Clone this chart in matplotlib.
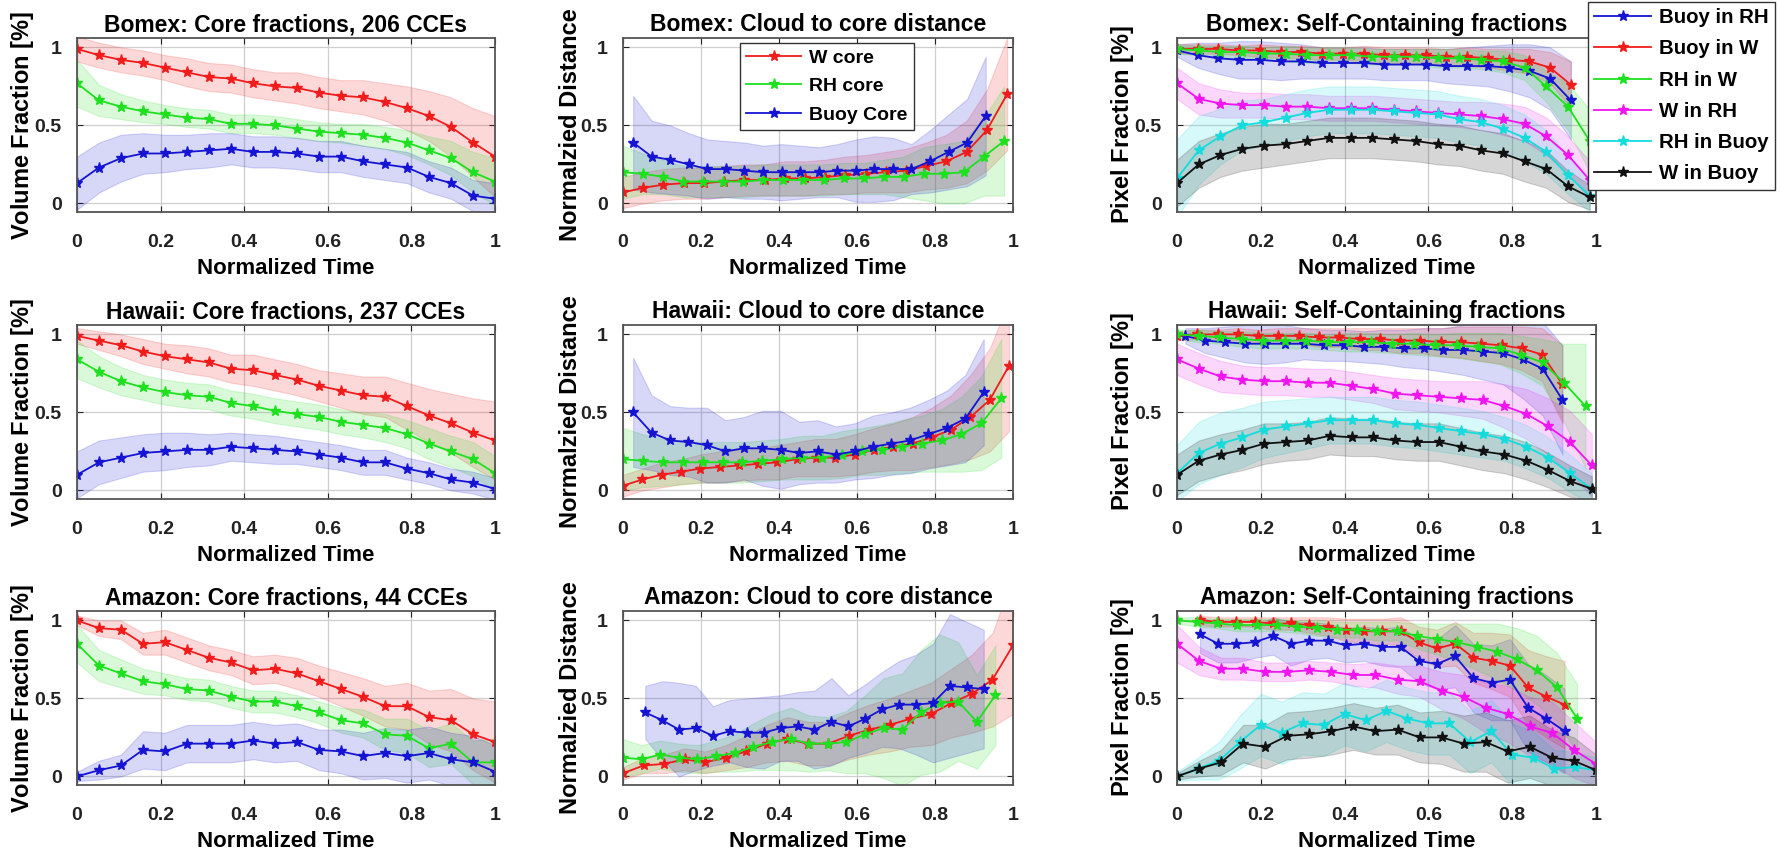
import numpy as np
import matplotlib
matplotlib.use('Agg')
import matplotlib.pyplot as plt

plt.rcParams['font.family'] = ['Liberation Sans', 'DejaVu Sans']
plt.rcParams['font.weight'] = 'bold'
plt.rcParams['mathtext.default'] = 'regular'

W, H = 1781, 857

# ---------------- data: core fractions (x = normalized time) ----------------
t20 = np.linspace(0, 1, 20)

bomex_core_w = [0.99, 0.95, 0.92, 0.90, 0.87, 0.84, 0.81, 0.80, 0.77, 0.75, 0.74, 0.71, 0.69, 0.68, 0.65, 0.61, 0.56, 0.49, 0.39, 0.30]
bomex_core_w_sd = [0.08, 0.08, 0.08, 0.08, 0.08, 0.09, 0.09, 0.09, 0.09, 0.09, 0.1, 0.1, 0.1, 0.11, 0.12, 0.14, 0.16, 0.19, 0.22, 0.26]
bomex_core_rh = [0.77, 0.66, 0.62, 0.59, 0.57, 0.55, 0.54, 0.51, 0.51, 0.50, 0.48, 0.46, 0.45, 0.44, 0.42, 0.39, 0.34, 0.29, 0.20, 0.14]
bomex_core_rh_sd = [0.15, 0.1, 0.08, 0.07, 0.06, 0.06, 0.06, 0.06, 0.06, 0.06, 0.06, 0.06, 0.06, 0.07, 0.07, 0.08, 0.09, 0.11, 0.13, 0.15]
bomex_core_b = [0.13, 0.23, 0.29, 0.32, 0.32, 0.33, 0.34, 0.35, 0.33, 0.33, 0.32, 0.30, 0.30, 0.27, 0.25, 0.23, 0.17, 0.13, 0.05, 0.03]
bomex_core_b_sd = [0.17, 0.16, 0.15, 0.13, 0.12, 0.11, 0.11, 0.1, 0.1, 0.1, 0.1, 0.1, 0.1, 0.1, 0.1, 0.1, 0.1, 0.1, 0.1, 0.1]

hawaii_core_w = [0.99, 0.96, 0.93, 0.89, 0.86, 0.84, 0.82, 0.78, 0.77, 0.74, 0.71, 0.67, 0.64, 0.61, 0.60, 0.54, 0.48, 0.43, 0.37, 0.32]
hawaii_core_w_sd = [0.05, 0.06, 0.07, 0.08, 0.08, 0.09, 0.09, 0.09, 0.1, 0.1, 0.1, 0.1, 0.11, 0.12, 0.13, 0.15, 0.17, 0.19, 0.22, 0.25]
hawaii_core_rh = [0.84, 0.76, 0.70, 0.66, 0.63, 0.61, 0.60, 0.56, 0.54, 0.51, 0.49, 0.47, 0.44, 0.42, 0.40, 0.36, 0.30, 0.25, 0.20, 0.11]
hawaii_core_rh_sd = [0.12, 0.1, 0.09, 0.08, 0.08, 0.08, 0.08, 0.08, 0.08, 0.08, 0.08, 0.08, 0.08, 0.08, 0.09, 0.09, 0.1, 0.1, 0.11, 0.11]
hawaii_core_b = [0.10, 0.18, 0.21, 0.24, 0.25, 0.26, 0.26, 0.28, 0.27, 0.26, 0.25, 0.23, 0.21, 0.18, 0.18, 0.14, 0.11, 0.07, 0.05, 0.01]
hawaii_core_b_sd = [0.15, 0.14, 0.13, 0.12, 0.12, 0.11, 0.1, 0.09, 0.09, 0.09, 0.08, 0.08, 0.08, 0.08, 0.08, 0.07, 0.07, 0.07, 0.07, 0.07]

amazon_core_w = [1.0, 0.95, 0.94, 0.85, 0.86, 0.81, 0.76, 0.73, 0.68, 0.69, 0.66, 0.61, 0.56, 0.51, 0.45, 0.45, 0.38, 0.36, 0.27, 0.22]
amazon_core_w_sd = [0.03, 0.05, 0.06, 0.07, 0.08, 0.08, 0.08, 0.08, 0.09, 0.09, 0.1, 0.1, 0.11, 0.12, 0.13, 0.15, 0.17, 0.2, 0.23, 0.26]
amazon_core_rh = [0.85, 0.71, 0.66, 0.61, 0.59, 0.56, 0.55, 0.51, 0.48, 0.48, 0.45, 0.41, 0.36, 0.34, 0.27, 0.26, 0.18, 0.21, 0.09, 0.09]
amazon_core_rh_sd = [0.12, 0.1, 0.09, 0.08, 0.07, 0.07, 0.07, 0.07, 0.07, 0.07, 0.07, 0.07, 0.08, 0.09, 0.1, 0.11, 0.12, 0.13, 0.14, 0.15]
amazon_core_b = [0.0, 0.04, 0.07, 0.17, 0.16, 0.21, 0.21, 0.21, 0.23, 0.21, 0.22, 0.17, 0.16, 0.13, 0.15, 0.13, 0.15, 0.11, 0.09, 0.03]
amazon_core_b_sd = [0.03, 0.06, 0.07, 0.12, 0.12, 0.12, 0.12, 0.12, 0.12, 0.12, 0.12, 0.13, 0.14, 0.15, 0.16, 0.17, 0.17, 0.17, 0.17, 0.17]

# ---------------- data: cloud to core distance ----------------
bomex_dist_w_t = np.linspace(0, 0.985, 20)
bomex_dist_w = [0.07, 0.10, 0.12, 0.13, 0.13, 0.14, 0.15, 0.15, 0.16, 0.16, 0.17, 0.18, 0.19, 0.20, 0.21, 0.24, 0.27, 0.33, 0.47, 0.70]
bomex_dist_w_sd = [0.1, 0.1, 0.1, 0.1, 0.1, 0.1, 0.1, 0.1, 0.11, 0.11, 0.11, 0.12, 0.12, 0.13, 0.14, 0.15, 0.17, 0.2, 0.26, 0.36]
bomex_dist_rh_t = np.linspace(0, 0.977, 20)
bomex_dist_rh = [0.20, 0.19, 0.17, 0.14, 0.14, 0.14, 0.14, 0.15, 0.15, 0.15, 0.15, 0.16, 0.16, 0.17, 0.17, 0.19, 0.19, 0.20, 0.30, 0.40]
bomex_dist_rh_sd = [0.17, 0.13, 0.11, 0.1, 0.1, 0.1, 0.1, 0.1, 0.1, 0.1, 0.1, 0.1, 0.1, 0.11, 0.13, 0.17, 0.19, 0.2, 0.25, 0.35]
bomex_dist_b_t = np.linspace(0.026, 0.93, 20)
bomex_dist_b = [0.39, 0.30, 0.28, 0.25, 0.22, 0.22, 0.21, 0.20, 0.20, 0.20, 0.20, 0.21, 0.21, 0.22, 0.22, 0.22, 0.27, 0.33, 0.39, 0.56]
bomex_dist_b_sd = [0.3, 0.23, 0.22, 0.2, 0.19, 0.18, 0.18, 0.17, 0.18, 0.17, 0.16, 0.17, 0.2, 0.21, 0.2, 0.16, 0.2, 0.24, 0.28, 0.38]

hawaii_dist_w_t = np.linspace(0, 0.99, 21)
hawaii_dist_w = [0.03, 0.07, 0.10, 0.12, 0.14, 0.15, 0.16, 0.17, 0.18, 0.20, 0.21, 0.21, 0.23, 0.26, 0.28, 0.30, 0.34, 0.39, 0.47, 0.58, 0.80]
hawaii_dist_w_sd = [0.07, 0.07, 0.08, 0.08, 0.09, 0.1, 0.1, 0.1, 0.11, 0.11, 0.12, 0.12, 0.13, 0.14, 0.15, 0.17, 0.19, 0.22, 0.27, 0.33, 0.42]
hawaii_dist_rh_t = np.linspace(0, 0.97, 20)
hawaii_dist_rh = [0.20, 0.19, 0.18, 0.18, 0.18, 0.18, 0.18, 0.19, 0.20, 0.21, 0.21, 0.23, 0.25, 0.26, 0.28, 0.30, 0.32, 0.36, 0.43, 0.59]
hawaii_dist_rh_sd = [0.2, 0.17, 0.15, 0.14, 0.13, 0.13, 0.13, 0.13, 0.13, 0.14, 0.14, 0.15, 0.15, 0.16, 0.17, 0.18, 0.2, 0.24, 0.3, 0.38]
hawaii_dist_b_t = np.linspace(0.026, 0.925, 20)
hawaii_dist_b = [0.50, 0.37, 0.32, 0.31, 0.29, 0.25, 0.27, 0.27, 0.26, 0.24, 0.25, 0.23, 0.25, 0.28, 0.30, 0.32, 0.36, 0.40, 0.46, 0.63]
hawaii_dist_b_sd = [0.35, 0.24, 0.22, 0.22, 0.24, 0.2, 0.2, 0.24, 0.25, 0.2, 0.2, 0.18, 0.18, 0.2, 0.2, 0.21, 0.22, 0.24, 0.28, 0.34]

amazon_dist_w_t = np.linspace(0, 1, 20)
amazon_dist_w = [0.02, 0.07, 0.08, 0.11, 0.09, 0.12, 0.16, 0.21, 0.24, 0.21, 0.21, 0.26, 0.30, 0.33, 0.37, 0.40, 0.47, 0.53, 0.62, 0.84]
amazon_dist_w_sd = [0.04, 0.05, 0.06, 0.07, 0.07, 0.08, 0.1, 0.12, 0.14, 0.14, 0.14, 0.15, 0.16, 0.17, 0.18, 0.2, 0.22, 0.25, 0.3, 0.44]
amazon_dist_rh_t = np.linspace(0, 0.955, 21)
amazon_dist_rh = [0.12, 0.11, 0.14, 0.12, 0.11, 0.13, 0.15, 0.19, 0.22, 0.24, 0.21, 0.21, 0.22, 0.27, 0.31, 0.30, 0.41, 0.47, 0.48, 0.35, 0.52]
amazon_dist_rh_sd = [0.12, 0.09, 0.09, 0.09, 0.09, 0.1, 0.12, 0.15, 0.18, 0.2, 0.18, 0.17, 0.2, 0.25, 0.32, 0.36, 0.4, 0.44, 0.38, 0.3, 0.32]
amazon_dist_b_t = np.linspace(0.057, 0.925, 21)
amazon_dist_b = [0.41, 0.36, 0.30, 0.31, 0.26, 0.29, 0.28, 0.28, 0.31, 0.32, 0.30, 0.35, 0.32, 0.37, 0.43, 0.46, 0.46, 0.47, 0.58, 0.57, 0.56]
amazon_dist_b_sd = [0.17, 0.25, 0.3, 0.27, 0.19, 0.2, 0.22, 0.23, 0.21, 0.22, 0.25, 0.28, 0.2, 0.22, 0.24, 0.28, 0.32, 0.38, 0.46, 0.42, 0.38]

# ---------------- data: self-containing fractions ----------------
bomex_sc_buoy_rh_t = np.linspace(0, 0.94, 20)
bomex_sc_buoy_rh = [0.98, 0.95, 0.93, 0.92, 0.92, 0.91, 0.91, 0.90, 0.90, 0.90, 0.89, 0.89, 0.89, 0.88, 0.88, 0.88, 0.87, 0.85, 0.80, 0.66]
bomex_sc_buoy_rh_sd = [0.04, 0.08, 0.1, 0.12, 0.12, 0.12, 0.11, 0.1, 0.1, 0.1, 0.1, 0.1, 0.1, 0.11, 0.12, 0.13, 0.15, 0.17, 0.2, 0.25]
bomex_sc_buoy_w_t = np.linspace(0, 0.94, 20)
bomex_sc_buoy_w = [0.99, 0.99, 0.99, 0.98, 0.98, 0.97, 0.97, 0.96, 0.96, 0.96, 0.95, 0.95, 0.95, 0.94, 0.94, 0.93, 0.92, 0.91, 0.87, 0.76]
bomex_sc_buoy_w_sd = [0.03, 0.03, 0.03, 0.03, 0.04, 0.04, 0.04, 0.04, 0.04, 0.05, 0.05, 0.05, 0.05, 0.05, 0.06, 0.06, 0.07, 0.08, 0.1, 0.15]
bomex_sc_rh_w_t = np.linspace(0, 0.985, 20)
bomex_sc_rh_w = [0.99, 0.98, 0.97, 0.97, 0.96, 0.96, 0.95, 0.95, 0.95, 0.94, 0.94, 0.94, 0.93, 0.93, 0.92, 0.91, 0.87, 0.75, 0.62, 0.40]
bomex_sc_rh_w_sd = [0.03, 0.03, 0.04, 0.04, 0.04, 0.05, 0.05, 0.05, 0.05, 0.05, 0.05, 0.05, 0.06, 0.06, 0.06, 0.07, 0.08, 0.1, 0.15, 0.2]
bomex_sc_w_rh_t = np.linspace(0, 0.985, 20)
bomex_sc_w_rh = [0.77, 0.67, 0.64, 0.63, 0.63, 0.62, 0.62, 0.61, 0.61, 0.61, 0.60, 0.59, 0.58, 0.57, 0.56, 0.54, 0.51, 0.43, 0.31, 0.15]
bomex_sc_w_rh_sd = [0.1, 0.1, 0.09, 0.08, 0.08, 0.08, 0.08, 0.08, 0.08, 0.08, 0.08, 0.08, 0.08, 0.08, 0.09, 0.1, 0.11, 0.12, 0.12, 0.12]
bomex_sc_rh_buoy_t = np.linspace(0, 0.985, 20)
bomex_sc_rh_buoy = [0.16, 0.34, 0.43, 0.50, 0.52, 0.55, 0.58, 0.60, 0.60, 0.60, 0.59, 0.58, 0.57, 0.54, 0.52, 0.48, 0.42, 0.33, 0.18, 0.05]
bomex_sc_rh_buoy_sd = [0.25, 0.22, 0.18, 0.16, 0.15, 0.15, 0.15, 0.15, 0.15, 0.15, 0.15, 0.15, 0.15, 0.15, 0.15, 0.15, 0.15, 0.14, 0.12, 0.1]
bomex_sc_w_buoy_t = np.linspace(0, 0.985, 20)
bomex_sc_w_buoy = [0.13, 0.25, 0.31, 0.35, 0.37, 0.38, 0.40, 0.42, 0.42, 0.42, 0.41, 0.40, 0.38, 0.37, 0.34, 0.32, 0.27, 0.22, 0.11, 0.04]
bomex_sc_w_buoy_sd = [0.15, 0.15, 0.14, 0.14, 0.14, 0.13, 0.13, 0.13, 0.13, 0.13, 0.13, 0.13, 0.13, 0.13, 0.13, 0.13, 0.13, 0.12, 0.1, 0.08]

hawaii_sc_buoy_rh_t = np.linspace(0.02, 0.92, 20)
hawaii_sc_buoy_rh = [0.99, 0.96, 0.95, 0.94, 0.94, 0.94, 0.94, 0.93, 0.93, 0.92, 0.92, 0.91, 0.91, 0.90, 0.90, 0.89, 0.88, 0.84, 0.78, 0.58]
hawaii_sc_buoy_rh_sd = [0.05, 0.08, 0.1, 0.12, 0.13, 0.12, 0.1, 0.1, 0.1, 0.1, 0.11, 0.12, 0.13, 0.14, 0.16, 0.18, 0.2, 0.25, 0.3, 0.35]
hawaii_sc_buoy_w_t = np.linspace(0, 0.92, 20)
hawaii_sc_buoy_w = [0.99, 1.0, 1.0, 1.0, 0.99, 0.99, 0.99, 0.98, 0.98, 0.97, 0.97, 0.96, 0.96, 0.95, 0.95, 0.94, 0.93, 0.91, 0.87, 0.68]
hawaii_sc_buoy_w_sd = [0.03, 0.03, 0.03, 0.04, 0.04, 0.05, 0.05, 0.06, 0.06, 0.07, 0.07, 0.08, 0.08, 0.09, 0.1, 0.11, 0.12, 0.14, 0.17, 0.25]
hawaii_sc_rh_w_t = np.linspace(0, 0.975, 20)
hawaii_sc_rh_w = [1.0, 0.99, 0.98, 0.97, 0.96, 0.96, 0.96, 0.95, 0.95, 0.95, 0.94, 0.94, 0.93, 0.93, 0.92, 0.91, 0.87, 0.82, 0.69, 0.54]
hawaii_sc_rh_w_sd = [0.03, 0.04, 0.04, 0.05, 0.05, 0.05, 0.05, 0.05, 0.06, 0.06, 0.06, 0.07, 0.07, 0.08, 0.09, 0.1, 0.12, 0.15, 0.25, 0.4]
hawaii_sc_w_rh_t = np.linspace(0, 0.99, 20)
hawaii_sc_w_rh = [0.84, 0.78, 0.73, 0.71, 0.70, 0.70, 0.69, 0.69, 0.67, 0.65, 0.62, 0.61, 0.60, 0.59, 0.58, 0.54, 0.49, 0.41, 0.31, 0.16]
hawaii_sc_w_rh_sd = [0.1, 0.1, 0.1, 0.09, 0.09, 0.09, 0.09, 0.09, 0.09, 0.09, 0.1, 0.1, 0.1, 0.11, 0.12, 0.14, 0.16, 0.18, 0.2, 0.2]
hawaii_sc_rh_buoy_t = np.linspace(0, 0.99, 20)
hawaii_sc_rh_buoy = [0.11, 0.24, 0.30, 0.34, 0.39, 0.41, 0.43, 0.45, 0.45, 0.45, 0.43, 0.42, 0.40, 0.38, 0.36, 0.33, 0.28, 0.21, 0.11, 0.01]
hawaii_sc_rh_buoy_sd = [0.18, 0.2, 0.2, 0.19, 0.18, 0.17, 0.16, 0.15, 0.15, 0.15, 0.15, 0.15, 0.15, 0.15, 0.15, 0.14, 0.14, 0.13, 0.12, 0.1]
hawaii_sc_w_buoy_t = np.linspace(0, 0.99, 20)
hawaii_sc_w_buoy = [0.10, 0.19, 0.23, 0.26, 0.30, 0.31, 0.32, 0.35, 0.34, 0.34, 0.32, 0.31, 0.31, 0.28, 0.25, 0.23, 0.19, 0.13, 0.06, 0.01]
hawaii_sc_w_buoy_sd = [0.13, 0.13, 0.13, 0.13, 0.13, 0.12, 0.12, 0.12, 0.12, 0.12, 0.12, 0.12, 0.12, 0.12, 0.12, 0.12, 0.12, 0.11, 0.1, 0.08]

amazon_sc_buoy_rh_t = np.linspace(0.055, 0.925, 21)
amazon_sc_buoy_rh = [0.91, 0.85, 0.85, 0.86, 0.90, 0.85, 0.87, 0.87, 0.84, 0.85, 0.83, 0.83, 0.74, 0.72, 0.77, 0.63, 0.60, 0.62, 0.44, 0.37, 0.29]
amazon_sc_buoy_rh_sd = [0.12, 0.12, 0.12, 0.1, 0.12, 0.14, 0.12, 0.11, 0.11, 0.11, 0.12, 0.13, 0.14, 0.16, 0.2, 0.22, 0.24, 0.26, 0.28, 0.28, 0.27]
amazon_sc_buoy_w_t = np.linspace(0.055, 0.925, 21)
amazon_sc_buoy_w = [1.0, 0.99, 0.99, 0.99, 0.98, 0.98, 0.97, 0.96, 0.94, 0.93, 0.93, 0.93, 0.86, 0.82, 0.85, 0.76, 0.74, 0.71, 0.57, 0.51, 0.46]
amazon_sc_buoy_w_sd = [0.03, 0.03, 0.03, 0.03, 0.04, 0.04, 0.05, 0.06, 0.07, 0.08, 0.08, 0.09, 0.1, 0.12, 0.14, 0.16, 0.18, 0.2, 0.24, 0.26, 0.28]
amazon_sc_rh_w_t = np.linspace(0, 0.955, 21)
amazon_sc_rh_w = [1.0, 0.99, 0.98, 0.97, 0.97, 0.97, 0.96, 0.95, 0.94, 0.94, 0.93, 0.93, 0.90, 0.88, 0.86, 0.83, 0.80, 0.75, 0.68, 0.57, 0.37]
amazon_sc_rh_w_sd = [0.02, 0.03, 0.03, 0.04, 0.04, 0.04, 0.04, 0.05, 0.05, 0.05, 0.06, 0.06, 0.08, 0.1, 0.12, 0.15, 0.18, 0.2, 0.22, 0.22, 0.22]
amazon_sc_w_rh_t = np.linspace(0, 1, 20)
amazon_sc_w_rh = [0.85, 0.74, 0.69, 0.69, 0.67, 0.67, 0.68, 0.67, 0.65, 0.65, 0.62, 0.61, 0.55, 0.51, 0.44, 0.40, 0.32, 0.28, 0.17, 0.08]
amazon_sc_w_rh_sd = [0.12, 0.09, 0.07, 0.07, 0.06, 0.06, 0.06, 0.06, 0.07, 0.08, 0.09, 0.1, 0.12, 0.14, 0.16, 0.18, 0.19, 0.2, 0.18, 0.14]
amazon_sc_rh_buoy_t = np.linspace(0, 1, 21)
amazon_sc_rh_buoy = [0.0, 0.05, 0.10, 0.22, 0.33, 0.28, 0.34, 0.33, 0.40, 0.36, 0.42, 0.37, 0.34, 0.34, 0.22, 0.29, 0.14, 0.12, 0.05, 0.06, 0.04]
amazon_sc_rh_buoy_sd = [0.03, 0.07, 0.12, 0.17, 0.2, 0.2, 0.2, 0.2, 0.2, 0.2, 0.2, 0.2, 0.2, 0.2, 0.2, 0.2, 0.2, 0.17, 0.12, 0.1, 0.08]
amazon_sc_w_buoy_t = np.linspace(0, 1, 20)
amazon_sc_w_buoy = [0.0, 0.05, 0.09, 0.21, 0.19, 0.26, 0.27, 0.29, 0.32, 0.29, 0.30, 0.25, 0.25, 0.21, 0.22, 0.16, 0.19, 0.12, 0.10, 0.04]
amazon_sc_w_buoy_sd = [0.02, 0.05, 0.08, 0.12, 0.14, 0.15, 0.15, 0.15, 0.15, 0.15, 0.16, 0.16, 0.17, 0.18, 0.19, 0.2, 0.2, 0.18, 0.15, 0.1]

cases = ['Bomex', 'Hawaii', 'Amazon']
n_cces = [206, 237, 44]

RED, GREEN, BLUE = '#f01c1c', '#1ee01e', '#1414d2'
MAG, CYAN, BLACK = '#f014f0', '#14dcdc', '#111111'

core_series = [
    [(t20, bomex_core_w, bomex_core_w_sd), (t20, bomex_core_rh, bomex_core_rh_sd), (t20, bomex_core_b, bomex_core_b_sd)],
    [(t20, hawaii_core_w, hawaii_core_w_sd), (t20, hawaii_core_rh, hawaii_core_rh_sd), (t20, hawaii_core_b, hawaii_core_b_sd)],
    [(t20, amazon_core_w, amazon_core_w_sd), (t20, amazon_core_rh, amazon_core_rh_sd), (t20, amazon_core_b, amazon_core_b_sd)],
]
dist_series = [
    [(bomex_dist_w_t, bomex_dist_w, bomex_dist_w_sd), (bomex_dist_rh_t, bomex_dist_rh, bomex_dist_rh_sd), (bomex_dist_b_t, bomex_dist_b, bomex_dist_b_sd)],
    [(hawaii_dist_w_t, hawaii_dist_w, hawaii_dist_w_sd), (hawaii_dist_rh_t, hawaii_dist_rh, hawaii_dist_rh_sd), (hawaii_dist_b_t, hawaii_dist_b, hawaii_dist_b_sd)],
    [(amazon_dist_w_t, amazon_dist_w, amazon_dist_w_sd), (amazon_dist_rh_t, amazon_dist_rh, amazon_dist_rh_sd), (amazon_dist_b_t, amazon_dist_b, amazon_dist_b_sd)],
]
sc_series = [
    [(bomex_sc_buoy_rh_t, bomex_sc_buoy_rh, bomex_sc_buoy_rh_sd), (bomex_sc_buoy_w_t, bomex_sc_buoy_w, bomex_sc_buoy_w_sd),
     (bomex_sc_rh_w_t, bomex_sc_rh_w, bomex_sc_rh_w_sd), (bomex_sc_w_rh_t, bomex_sc_w_rh, bomex_sc_w_rh_sd),
     (bomex_sc_rh_buoy_t, bomex_sc_rh_buoy, bomex_sc_rh_buoy_sd), (bomex_sc_w_buoy_t, bomex_sc_w_buoy, bomex_sc_w_buoy_sd)],
    [(hawaii_sc_buoy_rh_t, hawaii_sc_buoy_rh, hawaii_sc_buoy_rh_sd), (hawaii_sc_buoy_w_t, hawaii_sc_buoy_w, hawaii_sc_buoy_w_sd),
     (hawaii_sc_rh_w_t, hawaii_sc_rh_w, hawaii_sc_rh_w_sd), (hawaii_sc_w_rh_t, hawaii_sc_w_rh, hawaii_sc_w_rh_sd),
     (hawaii_sc_rh_buoy_t, hawaii_sc_rh_buoy, hawaii_sc_rh_buoy_sd), (hawaii_sc_w_buoy_t, hawaii_sc_w_buoy, hawaii_sc_w_buoy_sd)],
    [(amazon_sc_buoy_rh_t, amazon_sc_buoy_rh, amazon_sc_buoy_rh_sd), (amazon_sc_buoy_w_t, amazon_sc_buoy_w, amazon_sc_buoy_w_sd),
     (amazon_sc_rh_w_t, amazon_sc_rh_w, amazon_sc_rh_w_sd), (amazon_sc_w_rh_t, amazon_sc_w_rh, amazon_sc_w_rh_sd),
     (amazon_sc_rh_buoy_t, amazon_sc_rh_buoy, amazon_sc_rh_buoy_sd), (amazon_sc_w_buoy_t, amazon_sc_w_buoy, amazon_sc_w_buoy_sd)],
]
core_labels = ['W core', 'RH core', 'Buoy Core']
core_colors = [RED, GREEN, BLUE]
sc_labels = ['Buoy in RH', 'Buoy in W', 'RH in W', 'W in RH', 'RH in Buoy', 'W in Buoy']
sc_colors = [BLUE, RED, GREEN, MAG, CYAN, BLACK]

fig = plt.figure(figsize=(W / 100, H / 100), dpi=100)

col_left = [77, 623, 1177]
col_width = [418, 390, 419]
row_bottom = [212, 499, 785]
ax_h = 174


def make_ax(r, c):
    ax = fig.add_axes([col_left[c] / W, 1 - row_bottom[r] / H, col_width[c] / W, ax_h / H])
    ax.set_xlim(0, 1)
    ax.set_ylim(-0.055, 1.06)
    ax.set_xticks([0, 0.2, 0.4, 0.6, 0.8, 1])
    ax.set_xticklabels(['0', '0.2', '0.4', '0.6', '0.8', '1'])
    ax.set_yticks([0, 0.5, 1])
    ax.set_yticklabels(['0', '0.5', '1'])
    ax.tick_params(direction='in', top=True, right=True, labelsize=14, colors='#222222', length=4)
    ax.tick_params(axis='x', pad=16)
    ax.tick_params(axis='y', pad=11)
    ax.grid(True, color='#cfcfcf', lw=0.9)
    ax.set_axisbelow(True)
    for s in ax.spines.values():
        s.set_color('#555555')
        s.set_linewidth(1.3)
    ax.set_xlabel('Normalized Time', fontsize=16, fontweight='bold', labelpad=5)
    return ax


def draw(ax, t, y, sd, color, label=None):
    y = np.array(y)
    sd = np.array(sd)
    ax.fill_between(t, y - sd, y + sd, color=color, alpha=0.17, lw=0.8)
    ax.plot(t, y, '-', marker='*', color=color, ms=8, lw=1.3, label=label)


for r in range(3):
    ax = make_ax(r, 0)
    for (t, y, sd), col, lab in zip(core_series[r], core_colors, core_labels):
        draw(ax, t, y, sd, col, lab)
    ax.set_title('%s: Core fractions, %d CCEs' % (cases[r], n_cces[r]), fontsize=16.5, fontweight='bold', pad=5)
    ax.set_ylabel(r'Volume Fraction $[\%]$', fontsize=17, fontweight='bold', labelpad=-1)

    ax = make_ax(r, 1)
    for (t, y, sd), col, lab in zip(dist_series[r], core_colors, core_labels):
        draw(ax, t, y, sd, col, lab)
    ax.set_title('%s: Cloud to core distance' % cases[r], fontsize=16.5, fontweight='bold', pad=5)
    ax.set_ylabel('Normalzied Distance', fontsize=17, fontweight='bold', labelpad=-1)
    if r == 0:
        leg = ax.legend(loc='upper left', bbox_to_anchor=(0.274, 1.03), fontsize=14,
                        frameon=True, fancybox=False, edgecolor='#333333', framealpha=1,
                        handlelength=2.8, borderpad=0.35, labelspacing=0.55, handletextpad=0.4)
        leg.get_frame().set_linewidth(1.0)

    ax = make_ax(r, 2)
    for (t, y, sd), col, lab in zip(sc_series[r], sc_colors, sc_labels):
        draw(ax, t, y, sd, col, lab)
    ax.set_title('%s: Self-Containing fractions' % cases[r], fontsize=16.5, fontweight='bold', pad=5)
    ax.set_ylabel(r'Pixel Fraction $[\%]$', fontsize=17, fontweight='bold', labelpad=-1)
    if r == 0:
        h, l = ax.get_legend_handles_labels()
        leg = fig.legend(h, l, loc='upper left', bbox_to_anchor=(1586 / W, 1.0), fontsize=14.7,
                         frameon=True, fancybox=False, edgecolor='#333333', framealpha=1,
                         borderaxespad=0.1, handlelength=2.8, borderpad=0.3, labelspacing=0.6,
                         handletextpad=0.4)
        leg.get_frame().set_linewidth(1.0)

fig.savefig('out.png', dpi=100, facecolor='white')
